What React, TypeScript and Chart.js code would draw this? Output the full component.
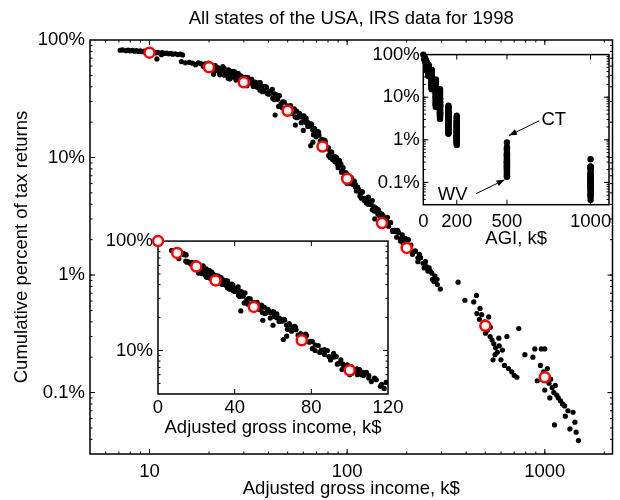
import React, { useEffect, useRef } from "react";
import { Chart, registerables } from "chart.js";

Chart.register(...registerables);

const FONT_FAMILY = '"Liberation Sans", Arial, Helvetica, sans-serif';
const FONT_SIZE = 18.5;

const TITLE = "All states of the USA, IRS data for 1998";
const X_TITLE = "Adjusted gross income, k$";
const Y_TITLE = "Cumulative percent of tax returns";
const INSET_X_TITLE = "AGI, k$";

// National bin thresholds (k$) and cumulative percent of returns above them (red circles)
const binEdges = [0, 10, 20, 30, 50, 75, 100, 150, 200, 500, 1000];
const binPercent = [100, 78, 58.6, 43.7, 25, 12.4, 6.6, 2.77, 1.7, 0.37, 0.135];

// State-level points, per bin: scaled AGI (k$) and cumulative percent
const x10 = [7.1, 7.3, 7.6, 7.8, 8.0, 8.2, 8.4, 8.6, 8.8, 9.0, 9.2, 9.4, 9.6, 9.8, 10.0, 10.2, 10.4, 10.6, 10.8, 11.0, 11.3, 11.6, 11.9, 12.2, 12.5, 12.8, 13.1, 13.5, 13.9, 14.3, 14.7, 10.9, 9.7, 11.5];
const y10 = [81.8, 82.4, 81.2, 82.0, 80.9, 81.5, 80.4, 81.1, 80.0, 80.7, 79.6, 80.3, 79.1, 79.9, 78.7, 79.4, 78.2, 79.0, 77.8, 78.6, 77.3, 78.1, 76.9, 77.5, 76.3, 77.0, 75.8, 76.4, 75.2, 75.8, 74.6, 69.0, 77.0, 75.0];

const x20 = [14.5, 15.2, 15.9, 16.5, 17.1, 17.7, 18.2, 18.7, 19.1, 19.5, 19.9, 20.3, 20.7, 21.1, 21.5, 21.9, 22.3, 22.7, 23.1, 23.5, 23.9, 24.3, 24.7, 25.1, 25.5, 25.9, 26.4, 26.9, 27.4, 27.9, 28.4, 28.9, 29.5, 30.1, 30.8, 31.5, 32.3, 33.1, 25.0];
const y20 = [65.5, 63.9, 64.6, 63.5, 61.7, 63.8, 63.0, 59.7, 62.8, 58.1, 63.6, 55.7, 59.2, 51.0, 60.6, 54.8, 57.7, 50.5, 54.5, 59.4, 50.2, 54.7, 51.1, 55.7, 46.6, 51.8, 48.5, 53.8, 45.6, 50.5, 46.9, 49.7, 42.3, 47.0, 43.1, 47.8, 43.4, 44.4, 47.2];

const x30 = [21.3, 22.0, 22.7, 23.3, 23.9, 24.5, 25.1, 25.6, 26.1, 26.6, 27.1, 27.6, 28.1, 28.6, 29.1, 29.6, 30.1, 30.6, 31.1, 31.7, 32.3, 32.9, 33.5, 34.1, 34.8, 35.5, 36.2, 36.9, 37.7, 38.5, 39.3, 40.2, 41.1, 42.0, 43.0, 44.0];
const y30 = [55.2, 58.6, 51.6, 55.3, 57.2, 50.7, 52.5, 47.5, 54.1, 49.2, 51.0, 46.3, 52.1, 47.1, 43.7, 48.3, 44.6, 48.2, 40.9, 45.2, 43.0, 46.3, 40.2, 42.7, 40.0, 43.2, 37.4, 40.6, 37.8, 40.4, 35.2, 36.2, 36.9, 32.0, 34.8, 32.4];

const x50 = [34.2, 35.3, 36.3, 37.3, 38.2, 39.1, 40.0, 40.9, 41.8, 42.7, 43.6, 44.5, 45.4, 46.3, 47.2, 48.1, 49.0, 49.9, 50.8, 51.7, 52.6, 53.5, 54.5, 55.5, 56.5, 57.5, 58.6, 59.7, 60.8, 62.0, 63.2, 64.4, 65.7, 67.0, 68.4, 69.8, 71.3, 43.2, 54.7, 47.0, 45.0];
const y50 = [43.9, 39.6, 43.3, 36.3, 38.5, 39.5, 34.6, 35.3, 38.1, 31.1, 34.3, 31.3, 33.6, 28.7, 29.8, 29.6, 25.6, 27.5, 25.7, 27.6, 23.7, 24.6, 22.2, 24.8, 22.1, 23.3, 19.8, 22.5, 20.5, 21.6, 18.4, 19.0, 19.3, 17.1, 17.6, 15.4, 16.6, 23.0, 18.9, 26.5, 27.2];

const x75 = [52.3, 54.0, 55.7, 57.3, 58.9, 60.4, 61.9, 63.3, 64.7, 66.1, 67.5, 68.9, 70.3, 71.7, 73.1, 74.5, 76.0, 77.5, 79.0, 80.5, 82.0, 83.6, 85.2, 86.8, 88.4, 90.1, 91.8, 93.6, 95.4, 97.2, 99.1, 101.0, 103.0, 105.1, 107.2, 65.4, 67.1, 69.7, 80.5, 60.0];
const y75 = [24.7, 26.0, 21.8, 23.8, 22.1, 22.6, 19.9, 19.8, 18.5, 19.0, 15.6, 17.0, 15.7, 16.4, 13.8, 14.3, 12.4, 13.7, 11.9, 12.1, 10.0, 11.1, 10.1, 9.2, 10.0, 8.6, 8.7, 7.5, 8.2, 7.3, 6.8, 7.1, 6.5, 6.7, 5.9, 12.6, 13.5, 15.0, 10.4, 17.0];

const x100 = [72.0, 74.5, 77.0, 79.5, 82.0, 84.4, 86.8, 89.2, 91.6, 94.0, 96.4, 98.8, 101.2, 103.7, 106.2, 108.7, 111.3, 113.9, 116.6, 119.3, 122.1, 125.0, 127.9, 130.9, 134.0, 137.2, 140.4, 143.7, 147.0, 96.0, 100.0, 90.0, 118.0, 105.0, 126.0, 132.0, 110.0, 93.0];
const y100 = [15.5, 13.2, 14.1, 12.1, 11.2, 9.6, 10.2, 8.8, 9.4, 7.6, 7.5, 7.4, 6.2, 6.8, 6.0, 6.3, 5.2, 5.4, 4.9, 5.1, 4.3, 4.5, 4.0, 4.2, 3.6, 3.8, 3.5, 3.6, 3.1, 6.7, 6.0, 8.2, 4.5, 6.5, 4.4, 4.0, 5.9, 8.8];

const x150 = [104, 107, 110, 113, 116, 119, 122, 125, 128, 131, 134, 137, 140, 143, 146, 149, 152, 155, 158, 162, 166, 170, 174, 178, 182, 187, 192, 197, 202, 208, 214, 221, 228, 235, 138, 160];
const y150 = [6.0, 6.3, 5.6, 5.6, 4.7, 5.1, 4.5, 4.1, 4.6, 4.0, 4.3, 3.5, 3.65, 3.3, 3.4, 2.85, 3.2, 2.85, 2.9, 2.6, 2.8, 2.4, 2.4, 2.1, 2.3, 2.05, 1.86, 2.05, 1.78, 1.77, 1.5, 1.6, 1.4, 1.41, 3.0, 3.1];

const x200 = [140, 145, 150, 155, 160, 165, 170, 175, 180, 186, 192, 198, 204, 210, 216, 222, 228, 235, 242, 249, 256, 263, 270, 278, 286, 296, 260, 232, 210, 275, 245, 190, 285, 268, 252];
const y200 = [3.7, 3.25, 3.3, 2.7, 2.8, 2.8, 2.35, 2.35, 2.4, 1.95, 2.05, 1.85, 2.0, 1.6, 1.6, 1.6, 1.3, 1.4, 1.26, 1.3, 1.08, 1.08, 0.92, 0.98, 0.83, 0.76, 1.15, 1.5, 1.8, 0.88, 1.15, 2.2, 0.92, 1.04, 1.18];

const x500 = [364, 394, 437, 451, 453, 467, 479, 497, 520, 501, 512, 529, 541, 552, 563, 575, 588, 547, 560, 600, 625, 643, 655, 680, 700, 722, 610, 585, 530, 470];
const y500 = [0.87, 0.61, 0.59, 0.67, 0.47, 0.42, 0.46, 0.40, 0.44, 0.32, 0.34, 0.30, 0.28, 0.26, 0.24, 0.22, 0.25, 0.19, 0.21, 0.19, 0.17, 0.30, 0.16, 0.15, 0.14, 0.135, 0.23, 0.29, 0.36, 0.52];

const x1000 = [738, 793, 870, 890, 960, 1000, 916, 950, 985, 1010, 1030, 1050, 1070, 1090, 1110, 1130, 1150, 1170, 1200, 1230, 1260, 1120, 1270, 1310, 1340, 1390, 1420, 1440, 1480, 1060, 1000];
const y1000 = [0.35, 0.21, 0.20, 0.235, 0.235, 0.235, 0.126, 0.17, 0.15, 0.14, 0.16, 0.12, 0.13, 0.11, 0.10, 0.115, 0.095, 0.09, 0.085, 0.08, 0.077, 0.053, 0.063, 0.070, 0.049, 0.068, 0.056, 0.046, 0.039, 0.09, 0.105];

// Bin lower bounds used on the AGI inset, with the matching state arrays
const stateBins = [10, 20, 30, 50, 75, 100, 150, 200, 500, 1000];
const stateX = [x10, x20, x30, x50, x75, x100, x150, x200, x500, x1000];
const stateY = [y10, y20, y30, y50, y75, y100, y150, y200, y500, y1000];
const zeroBinPercent = [100];

// Tick values and labels
const mainXTicks = [10, 100, 1000];
const mainXTickLabels = ["10", "100", "1000"];
const mainYTicks = [0.1, 1, 10, 100];
const mainYTickLabels = ["0.1%", "1%", "10%", "100%"];
const upperXTicks = [0, 200, 500, 1000];
const upperXTickLabels = ["0", "200", "500", "1000"];
const upperYTicks = [0.1, 1, 10, 100];
const upperYTickLabels = ["0.1%", "1%", "10%", "100%"];
const lowerXTicks = [0, 40, 80, 120];
const lowerXTickLabels = ["0", "40", "80", "120"];
const lowerYTicks = [10, 100];
const lowerYTickLabels = ["10%", "100%"];

// Annotations of the AGI inset (data coordinates)
const ctNote = { text: "CT", x: 780, y: 2.94, fromX: 692, fromY: 2.79, toX: 512, toY: 1.26 };
const wvNote = { text: "WV", x: 176, y: 0.0504, fromX: 316, fromY: 0.0546, toX: 486, toY: 0.115 };

const font = (size = FONT_SIZE) => ({ family: FONT_FAMILY, size });

function logMinors(min: number, max: number): number[] {
  const out: number[] = [];
  for (let e = Math.floor(Math.log10(min)); e <= Math.ceil(Math.log10(max)); e++) {
    for (let m = 1; m <= 9; m++) {
      const v = m * Math.pow(10, e);
      if (v >= min * 0.999 && v <= max * 1.001) out.push(Number(v.toPrecision(6)));
    }
  }
  return out;
}

function framePlugin(cfg: { xMajor: number[]; xMinor: number[]; yMajor: number[]; yMinor: number[] }) {
  return {
    id: "frame",
    beforeDatasetsDraw(chart: any) {
      const { ctx, chartArea: a } = chart;
      const xs = chart.scales.x;
      const ys = chart.scales.y;
      ctx.save();
      ctx.strokeStyle = "#000";
      ctx.lineWidth = 1;
      ctx.beginPath();
      const xt = (v: number, len: number) => {
        const p = xs.getPixelForValue(v);
        if (p <= a.left + 0.5 || p >= a.right - 0.5) return;
        ctx.moveTo(p, a.bottom);
        ctx.lineTo(p, a.bottom - len);
        ctx.moveTo(p, a.top);
        ctx.lineTo(p, a.top + len);
      };
      const yt = (v: number, len: number) => {
        const p = ys.getPixelForValue(v);
        if (p <= a.top + 0.5 || p >= a.bottom - 0.5) return;
        ctx.moveTo(a.left, p);
        ctx.lineTo(a.left + len, p);
        ctx.moveTo(a.right, p);
        ctx.lineTo(a.right - len, p);
      };
      cfg.xMinor.forEach((v) => xt(v, 2.5));
      cfg.yMinor.forEach((v) => yt(v, 2.5));
      cfg.xMajor.forEach((v) => xt(v, 5));
      cfg.yMajor.forEach((v) => yt(v, 5));
      ctx.stroke();
      ctx.lineWidth = 1.5;
      ctx.strokeRect(a.left, a.top, a.right - a.left, a.bottom - a.top);
      ctx.restore();
    },
  };
}

const titlePlugin = {
  id: "mainTitle",
  afterDraw(chart: any) {
    const { ctx, chartArea: a } = chart;
    ctx.save();
    ctx.fillStyle = "#000";
    ctx.font = `${FONT_SIZE}px ${FONT_FAMILY}`;
    ctx.textAlign = "center";
    ctx.textBaseline = "middle";
    ctx.fillText(TITLE, (a.left + a.right) / 2, 19);
    ctx.restore();
  },
};

function drawArrow(ctx: CanvasRenderingContext2D, x1: number, y1: number, x2: number, y2: number) {
  ctx.beginPath();
  ctx.moveTo(x1, y1);
  ctx.lineTo(x2, y2);
  ctx.stroke();
  const ang = Math.atan2(y2 - y1, x2 - x1);
  const L = 8;
  const W = 3;
  ctx.beginPath();
  ctx.moveTo(x2, y2);
  ctx.lineTo(x2 - L * Math.cos(ang) + W * Math.sin(ang), y2 - L * Math.sin(ang) - W * Math.cos(ang));
  ctx.lineTo(x2 - L * Math.cos(ang) - W * Math.sin(ang), y2 - L * Math.sin(ang) + W * Math.cos(ang));
  ctx.closePath();
  ctx.fill();
}

const notePlugin = {
  id: "notes",
  afterDatasetsDraw(chart: any) {
    const { ctx } = chart;
    const xs = chart.scales.x;
    const ys = chart.scales.y;
    ctx.save();
    ctx.fillStyle = "#000";
    ctx.strokeStyle = "#000";
    ctx.lineWidth = 1;
    ctx.font = `${FONT_SIZE}px ${FONT_FAMILY}`;
    ctx.textAlign = "center";
    ctx.textBaseline = "middle";
    [ctNote, wvNote].forEach((n) => {
      ctx.fillText(n.text, xs.getPixelForValue(n.x), ys.getPixelForValue(n.y));
      drawArrow(
        ctx,
        xs.getPixelForValue(n.fromX),
        ys.getPixelForValue(n.fromY),
        xs.getPixelForValue(n.toX),
        ys.getPixelForValue(n.toY)
      );
    });
    ctx.restore();
  },
};

function makeAxis(o: {
  type: "linear" | "logarithmic";
  min: number;
  max: number;
  position: "bottom" | "left";
  ticks: number[];
  labels: string[];
  size: number;
  pad: number;
  title?: string;
  titlePad?: number;
}) {
  const horizontal = o.position === "bottom";
  return {
    type: o.type,
    min: o.min,
    max: o.max,
    position: o.position,
    afterBuildTicks: (s: any) => {
      s.ticks = o.ticks.map((v) => ({ value: v }));
    },
    afterFit: (s: any) => {
      if (horizontal) s.height = o.size;
      else s.width = o.size;
    },
    grid: { display: false, drawTicks: false },
    border: { display: false },
    ticks: {
      autoSkip: false,
      maxRotation: 0,
      minRotation: 0,
      padding: o.pad,
      color: "#000",
      font: font(),
      callback: (_v: any, i: number) => o.labels[i],
    },
    title: o.title
      ? {
          display: true,
          text: o.title,
          color: "#000",
          font: font(),
          padding: horizontal ? { top: 0, bottom: o.titlePad ?? 0 } : { top: o.titlePad ?? 0, bottom: 0 },
        }
      : { display: false },
  };
}

const baseOptions = {
  animation: false as const,
  responsive: false,
  devicePixelRatio: 1,
  events: [] as any[],
  plugins: { legend: { display: false }, tooltip: { enabled: false }, title: { display: false } },
};

function allStateDots() {
  const pts: { x: number; y: number }[] = [];
  stateX.forEach((xs, k) => xs.forEach((x, i) => pts.push({ x, y: stateY[k][i] })));
  return pts;
}

function binColumns() {
  const pts: { x: number; y: number }[] = zeroBinPercent.map((y) => ({ x: 0, y }));
  stateBins.forEach((b, k) => stateY[k].forEach((y) => pts.push({ x: b, y })));
  return pts;
}

function circles(maxX: number, minX: number) {
  return binEdges
    .map((x, i) => ({ x, y: binPercent[i] }))
    .filter((p) => p.x <= maxX && p.x >= minX);
}

const dotStyle = (r: number) => ({
  pointRadius: r,
  pointHoverRadius: r,
  pointBackgroundColor: "#000",
  pointBorderWidth: 0,
  pointBorderColor: "#000",
  order: 1,
});

const circleStyle = {
  pointRadius: 5,
  pointHoverRadius: 5,
  pointBackgroundColor: "#fff",
  pointBorderColor: "#ff0000",
  pointBorderWidth: 2.5,
  clip: false as const,
  order: 0,
};

export default function App() {
  const mainRef = useRef<HTMLCanvasElement>(null);
  const upperRef = useRef<HTMLCanvasElement>(null);
  const lowerRef = useRef<HTMLCanvasElement>(null);

  useEffect(() => {
    const dots = allStateDots();

    const main = new Chart(mainRef.current!, {
      type: "scatter",
      data: {
        datasets: [
          { data: dots, ...dotStyle(2.6) } as any,
          { data: circles(5000, 1), ...circleStyle } as any,
        ],
      },
      options: {
        ...baseOptions,
        layout: { padding: { top: 40, right: 3, left: 0, bottom: 0 } },
        scales: {
          x: makeAxis({
            type: "logarithmic", min: 5, max: 2200, position: "bottom",
            ticks: mainXTicks, labels: mainXTickLabels, size: 46, pad: 6.5,
            title: X_TITLE, titlePad: 0,
          }),
          y: makeAxis({
            type: "logarithmic", min: 0.03, max: 100, position: "left",
            ticks: mainYTicks, labels: mainYTickLabels, size: 90, pad: 5,
            title: Y_TITLE, titlePad: 10.5,
          }),
        } as any,
      },
      plugins: [
        framePlugin({
          xMajor: mainXTicks, xMinor: logMinors(5, 2200),
          yMajor: mainYTicks, yMinor: logMinors(0.03, 100),
        }),
        titlePlugin,
      ],
    });

    const upper = new Chart(upperRef.current!, {
      type: "scatter",
      data: { datasets: [{ data: binColumns(), ...dotStyle(3.2), clip: false } as any] },
      options: {
        ...baseOptions,
        layout: { padding: { top: 12.7, right: 11, left: 0, bottom: 0 } },
        scales: {
          x: makeAxis({
            type: "linear", min: 0, max: 1110, position: "bottom",
            ticks: upperXTicks, labels: upperXTickLabels, size: 45.3, pad: 5.9,
            title: INSET_X_TITLE, titlePad: 0,
          }),
          y: makeAxis({
            type: "logarithmic", min: 0.03, max: 100, position: "left",
            ticks: upperYTicks, labels: upperYTickLabels, size: 53.3, pad: 3.5,
          }),
        } as any,
      },
      plugins: [
        framePlugin({
          xMajor: upperXTicks, xMinor: [],
          yMajor: upperYTicks, yMinor: logMinors(0.03, 100),
        }),
        notePlugin,
      ],
    });

    const lower = new Chart(lowerRef.current!, {
      type: "scatter",
      data: {
        datasets: [
          { data: dots, ...dotStyle(2.6) } as any,
          { data: circles(120, 0), ...circleStyle } as any,
        ],
      },
      options: {
        ...baseOptions,
        layout: { padding: { top: 15.7, right: 22, left: 0, bottom: 0 } },
        scales: {
          x: makeAxis({
            type: "linear", min: 0, max: 120, position: "bottom",
            ticks: lowerXTicks, labels: lowerXTickLabels, size: 46, pad: 3,
            title: X_TITLE, titlePad: 1,
          }),
          y: makeAxis({
            type: "logarithmic", min: 4, max: 100, position: "left",
            ticks: lowerYTicks, labels: lowerYTickLabels, size: 68, pad: 5,
          }),
        } as any,
      },
      plugins: [
        framePlugin({
          xMajor: lowerXTicks, xMinor: [],
          yMajor: lowerYTicks, yMinor: logMinors(4, 100),
        }),
      ],
    });

    return () => {
      main.destroy();
      upper.destroy();
      lower.destroy();
    };
  }, []);

  return (
    <div style={{ position: "absolute", left: 0, top: 0, width: 620, height: 500, background: "#fff" }}>
      <canvas ref={mainRef} width={620} height={500} style={{ position: "absolute", left: 0, top: 0 }} />
      <canvas ref={lowerRef} width={320} height={215} style={{ position: "absolute", left: 90, top: 225 }} />
      <canvas ref={upperRef} width={250} height={210} style={{ position: "absolute", left: 370, top: 40 }} />
    </div>
  );
}
